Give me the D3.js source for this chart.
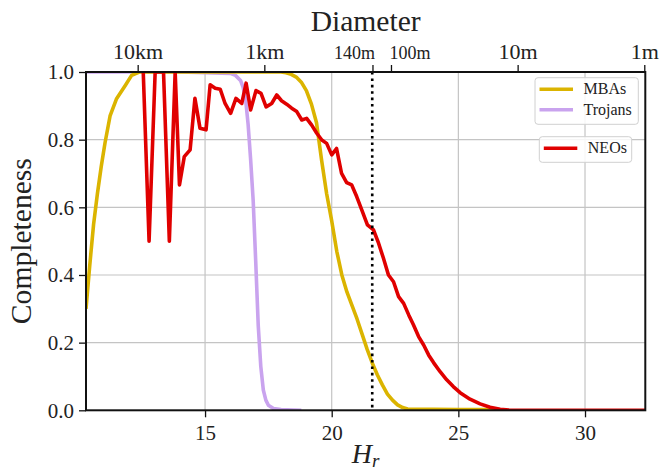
<!DOCTYPE html>
<html>
<head>
<meta charset="utf-8">
<script src="https://cdn.jsdelivr.net/npm/d3@7"></script>
<style>
  body { margin: 0; background: #fff; }
  text { font-family: "Liberation Serif", "DejaVu Serif", serif; fill: #222; }
</style>
</head>
<body>
<svg id="chart" width="661" height="472"></svg>
<script>
// ---------------- DATA ----------------
const mbaH = [10.3, 10.45, 10.6, 10.75, 10.9, 11.05, 11.25, 11.5, 11.85, 12.1, 12.4, 13, 14, 15, 16, 17, 18.0, 18.2, 18.4, 18.6, 18.8, 19.0, 19.2, 19.4, 19.6, 19.8, 20.0, 20.2, 20.4, 20.6, 20.8, 21.0, 21.2, 21.4, 21.6, 21.8, 22.0, 22.2, 22.4, 22.6, 22.8, 23.0, 23.4, 24.0, 25.0, 26.0, 26.5];
const mbaC = [0.30, 0.43, 0.55, 0.64, 0.72, 0.79, 0.87, 0.92, 0.96, 0.99, 1.0, 1.0, 1.0, 1.0, 1.0, 1.0, 1.0, 0.998, 0.993, 0.985, 0.97, 0.945, 0.905, 0.85, 0.74, 0.64, 0.56, 0.47, 0.40, 0.35, 0.31, 0.27, 0.225, 0.18, 0.14, 0.105, 0.075, 0.048, 0.03, 0.016, 0.008, 0.004, 0.003, 0.003, 0.002, 0.002, 0.001];

const trojH = [10.3, 12, 14, 16.0, 16.2, 16.4, 16.5, 16.6, 16.7, 16.8, 16.9, 17.0, 17.1, 17.2, 17.3, 17.4, 17.5, 17.7, 18.0, 18.5, 18.8];
const trojC = [1.0, 1.0, 1.0, 0.996, 0.99, 0.975, 0.955, 0.92, 0.845, 0.74, 0.62, 0.44, 0.25, 0.13, 0.06, 0.03, 0.015, 0.005, 0.002, 0.001, 0.0];

const neoH = [12.56, 12.79, 13.03, 13.2, 13.36, 13.59, 13.82, 13.99, 14.18, 14.41, 14.60, 14.80, 15.04, 15.20, 15.40, 15.60, 15.79, 16.01, 16.22, 16.45, 16.62, 16.80, 17.01, 17.21, 17.41, 17.63, 17.83, 18.02, 18.22, 18.42, 18.62, 18.82, 19.01, 19.21, 19.41, 19.61, 19.80, 20.00, 20.19, 20.39, 20.59, 20.79, 20.99, 21.19, 21.41, 21.65, 21.85, 22.04, 22.24, 22.44, 22.64, 22.84, 23.04, 23.23, 23.43, 23.63, 23.83, 24.02, 24.28, 24.54, 24.80, 25.07, 25.46, 25.86, 26.25, 26.65, 27.0, 28.0, 30.0, 32.5];
const neoC = [1.0, 0.50, 1.0, 1.0, 1.0, 0.50, 1.0, 0.666, 0.75, 0.77, 0.922, 0.834, 0.829, 0.962, 0.952, 0.949, 0.907, 0.878, 0.922, 0.907, 0.967, 0.888, 0.945, 0.937, 0.897, 0.907, 0.932, 0.915, 0.905, 0.893, 0.883, 0.858, 0.863, 0.843, 0.819, 0.799, 0.789, 0.755, 0.774, 0.70, 0.673, 0.666, 0.631, 0.592, 0.548, 0.533, 0.494, 0.450, 0.40, 0.38, 0.336, 0.316, 0.282, 0.252, 0.218, 0.193, 0.163, 0.141, 0.114, 0.09, 0.07, 0.052, 0.033, 0.019, 0.009, 0.003, 0.001, 0.0, 0.0, 0.0];

const xTicks = [15, 20, 25, 30];
const yTicks = [0.0, 0.2, 0.4, 0.6, 0.8, 1.0];
const topLabels = ["10km", "1km", "140m", "100m", "10m", "1m"];
const topDiamKm = [10, 1, 0.14, 0.1, 0.01, 0.001];
const H1km = 17.34;           // H corresponding to 1 km diameter
const dottedH = 21.6;         // 140 m marker line
const seriesNames = ["MBAs", "Trojans", "NEOs"];
const seriesColors = ["#dbb400", "#c9a3ee", "#e00000"];

// ---------------- LAYOUT ----------------
const svg = d3.select("#chart");
const L = 86, R = 645.3, T = 72, B = 410.3;
const x = d3.scaleLinear().domain([10.3, 32.38]).range([L, R]);
const y = d3.scaleLinear().domain([0, 1]).range([B, T]);

svg.append("defs").append("clipPath").attr("id", "clip")
  .append("rect").attr("x", L).attr("y", T).attr("width", R - L).attr("height", B - T);

// grid
const grid = svg.append("g");
grid.selectAll(".gx").data(xTicks).join("line")
  .attr("x1", d => x(d)).attr("x2", d => x(d)).attr("y1", T).attr("y2", B)
  .attr("stroke", "#c4c4c4").attr("stroke-width", 1.2);
grid.selectAll(".gy").data(yTicks.slice(1, -1)).join("line")
  .attr("x1", L).attr("x2", R).attr("y1", d => y(d)).attr("y2", d => y(d))
  .attr("stroke", "#c4c4c4").attr("stroke-width", 1.2);

// lines
const line = d3.line().x(d => x(d[0])).y(d => y(d[1]));
const plot = svg.append("g").attr("clip-path", "url(#clip)");
const series = [
  {H: trojH, C: trojC, color: seriesColors[1]},
  {H: mbaH, C: mbaC, color: seriesColors[0]},
  {H: neoH, C: neoC, color: seriesColors[2]}
];
series.forEach(s => {
  plot.append("path")
    .datum(s.H.map((h, i) => [h, s.C[i]]))
    .attr("d", line)
    .attr("fill", "none")
    .attr("stroke", s.color)
    .attr("stroke-width", 3.6)
    .attr("stroke-linejoin", "round");
});

// dotted 140 m line
svg.append("line")
  .attr("x1", x(dottedH)).attr("x2", x(dottedH)).attr("y1", T).attr("y2", B)
  .attr("stroke", "#000").attr("stroke-width", 2.6)
  .attr("stroke-dasharray", "2.6,3.8");

// axes
const fontTick = 21;
const xAxis = svg.append("g").attr("transform", `translate(0,${B})`)
  .call(d3.axisBottom(x).tickValues(xTicks).tickSize(7).tickPadding(8).tickFormat(d3.format("d")));
const yAxis = svg.append("g").attr("transform", `translate(${L},0)`)
  .call(d3.axisLeft(y).tickValues(yTicks).tickSize(7).tickPadding(5).tickFormat(d3.format(".1f")));
const topVals = topDiamKm.map(D => H1km - 5 * Math.log10(D));
const topAxis = svg.append("g").attr("transform", `translate(0,${T})`)
  .call(d3.axisTop(x).tickValues(topVals).tickSize(7).tickPadding(6).tickFormat((d, i) => topLabels[i]));

[xAxis, yAxis, topAxis].forEach(a => {
  a.select(".domain").remove();
  a.selectAll(".tick line").attr("stroke", "#111").attr("stroke-width", 1.3);
  a.selectAll(".tick text").attr("font-family", "Liberation Serif").attr("font-size", fontTick).attr("fill", "#222");
});
topAxis.selectAll(".tick text")
  .attr("font-size", (d, i) => (topLabels[i] === "140m" || topLabels[i] === "100m") ? 18 : 22)
  .attr("text-anchor", (d, i) => topLabels[i] === "140m" ? "end" : (topLabels[i] === "100m" ? "start" : "middle"))
  .attr("dx", (d, i) => topLabels[i] === "140m" ? 2 : (topLabels[i] === "100m" ? -2 : 0));

// frame
svg.append("rect").attr("x", L).attr("y", T).attr("width", R - L).attr("height", B - T)
  .attr("fill", "none").attr("stroke", "#111").attr("stroke-width", 2);

// labels
svg.append("text").attr("x", (L + R) / 2).attr("y", 31).attr("text-anchor", "middle")
  .attr("font-size", 29).attr("textLength", 110).attr("lengthAdjust", "spacingAndGlyphs").text("Diameter");
svg.append("text").attr("transform", `translate(31,${(T + B) / 2}) rotate(-90)`)
  .attr("text-anchor", "middle").attr("font-size", 29)
  .attr("textLength", 166).attr("lengthAdjust", "spacingAndGlyphs").text("Completeness");
const xl = svg.append("text").attr("x", (L + R) / 2).attr("y", 463).attr("text-anchor", "middle")
  .attr("font-size", 28).attr("font-style", "italic");
xl.append("tspan").text("H");
xl.append("tspan").attr("font-size", 19).attr("dy", 4).text("r");

// legends
function legend(items, bx, by, bw, bh) {
  const g = svg.append("g");
  g.append("rect").attr("x", bx).attr("y", by).attr("width", bw).attr("height", bh)
    .attr("rx", 3).attr("fill", "#fff").attr("fill-opacity", 0.85)
    .attr("stroke", "#d0d0d0").attr("stroke-width", 1);
  items.forEach((it, i) => {
    const yy = by + 11.5 + i * 20.5;
    g.append("line").attr("x1", bx + 4.5).attr("x2", bx + 38).attr("y1", yy).attr("y2", yy)
      .attr("stroke", it.color).attr("stroke-width", 3.6);
    g.append("text").attr("x", bx + 48.5).attr("y", yy + 5).attr("font-size", 16).text(it.name);
  });
}
legend([{name: seriesNames[0], color: seriesColors[0]}, {name: seriesNames[1], color: seriesColors[1]}], 535, 77.7, 103.3, 46.6);
legend([{name: seriesNames[2], color: seriesColors[2]}], 539.3, 136.7, 92.4, 25.6);
</script>
</body>
</html>
